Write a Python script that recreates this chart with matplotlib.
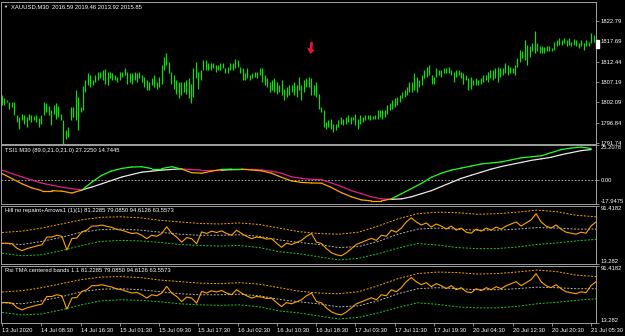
import numpy as np
import matplotlib
matplotlib.use('Agg')
import matplotlib.pyplot as plt
from matplotlib.patches import Rectangle
from matplotlib.transforms import blended_transform_factory

plt.rcParams['font.family'] = ['Liberation Sans', 'DejaVu Sans']

# ---------------- text ----------------
symbol_title = "XAUUSD,M30  2016.59 2019.46 2013.92 2015.85"
tsi_title = "TSI1 M30 (89.0,21.0,21.0) 27.2250 14.7445"
hill_title = "Hill no repaint+Arrows1 (1)(1) 81.2285 79.0850 94.6126 63.5573"
rsi_title = "Rsi TMA centered bands 1.1 81.2285 79.0850 94.6126 63.5573"

time_labels = ["13 Jul 2020", "14 Jul 08:30", "14 Jul 16:30", "15 Jul 01:30",
               "15 Jul 09:30", "15 Jul 17:30", "16 Jul 02:30", "16 Jul 10:30",
               "16 Jul 18:30", "17 Jul 03:30", "17 Jul 11:30", "17 Jul 19:30",
               "20 Jul 04:30", "20 Jul 12:30", "20 Jul 20:30", "21 Jul 05:30"]
time_label_bars = [0, 16, 32, 48, 64, 80, 96, 112, 128, 144, 160, 176, 192, 208, 224, 240]

price_ticks = [1822.79, 1817.69, 1812.44, 1807.19, 1802.09, 1796.84, 1791.74]
price_range = [1791.43, 1827.87]
tsi_ticks = [25.2078, 0.00, -17.9475]
band_ticks = [91.4182, 13.282]

# ---------------- price bars (M30) ----------------
high = [1803.9, 1803.1, 1802.6, 1802.2, 1802.2, 1802.2, 1798.8, 1798.3, 1799.2, 1798.8,
        1798.3, 1799.0, 1798.8, 1798.5, 1798.8, 1798.2, 1798.8, 1802.2, 1801.8, 1801.1,
        1800.2, 1801.3, 1801.8, 1801.1, 1799.2, 1797.5, 1794.9, 1795.8, 1800.8, 1800.8,
        1805.2, 1803.5, 1800.9, 1806.2, 1807.8, 1809.5, 1809.1, 1807.8, 1809.1, 1809.9,
        1809.9, 1810.4, 1810.5, 1809.9, 1809.9, 1809.5, 1809.1, 1808.6, 1809.9, 1809.9,
        1810.8, 1809.9, 1809.7, 1809.5, 1809.9, 1809.7, 1809.9, 1809.1, 1808.6, 1807.8,
        1807.4, 1808.2, 1809.1, 1807.4, 1808.6, 1811.6, 1813.8, 1814.6, 1812.5, 1809.9,
        1809.1, 1807.8, 1807.4, 1807.4, 1807.4, 1807.8, 1808.2, 1806.9, 1810.8, 1812.5,
        1809.9, 1810.4, 1812.9, 1812.9, 1812.1, 1812.1, 1812.2, 1811.6, 1811.6, 1812.2,
        1812.1, 1810.8, 1811.2, 1812.1, 1812.1, 1813.1, 1812.9, 1811.2, 1810.8, 1809.5,
        1810.8, 1809.1, 1809.5, 1809.9, 1809.9, 1810.8, 1810.8, 1809.1, 1808.2, 1807.4,
        1807.8, 1808.2, 1807.4, 1806.5, 1807.8, 1805.6, 1806.1, 1806.5, 1806.5, 1807.4,
        1806.5,
        1808.6, 1806.5, 1807.8, 1808.2, 1808.6, 1808.2, 1806.5, 1807.4, 1804.3, 1800.9,
        1800.1, 1797.1, 1797.5, 1797.9, 1796.6, 1796.6, 1797.5, 1798.3, 1797.9, 1798.3,
        1798.8, 1798.3, 1798.3, 1799.2, 1797.9, 1798.8, 1798.3, 1798.8, 1798.8, 1798.8,
        1798.5, 1798.8, 1800.1, 1800.1, 1800.1, 1800.2, 1801.3, 1801.8, 1802.6, 1803.1,
        1803.5, 1803.9, 1804.8, 1805.2, 1806.1, 1807.4, 1807.4, 1809.5, 1808.6, 1807.8,
        1809.1, 1810.4, 1811.2, 1811.6, 1809.1, 1808.6, 1810.8, 1810.4, 1810.4, 1810.9,
        1810.8,
        1811.2, 1810.4, 1809.9, 1810.4, 1810.4, 1809.9, 1809.5, 1809.1, 1808.2, 1808.6,
        1807.8, 1808.2, 1807.8, 1808.2, 1809.1, 1809.1, 1809.9, 1810.4, 1810.4, 1810.8,
        1811.2, 1810.8, 1810.8, 1812.1, 1811.6, 1811.2, 1810.8, 1811.6, 1813.4, 1815.5,
        1815.1, 1818.1, 1816.8, 1816.4, 1817.2, 1820.2, 1817.2, 1816.4, 1816.4, 1816.2,
        1816.4, 1816.4, 1815.9, 1817.6, 1818.1, 1818.5, 1818.1, 1818.5, 1818.1, 1818.5,
        1817.6, 1818.3, 1818.1, 1817.2, 1818.1, 1817.2, 1818.1, 1817.6, 1819.8, 1819.4]

low = [1801.3, 1801.3, 1802.2, 1800.5, 1800.9, 1798.8, 1797.1, 1795.3, 1797.5, 1796.6,
       1795.9, 1797.5, 1797.1, 1797.5, 1797.1, 1795.8, 1796.6, 1798.8, 1799.6, 1798.8,
       1796.2, 1799.2, 1797.9, 1798.3, 1797.5, 1791.5, 1792.8, 1793.2, 1797.5, 1798.3,
       1797.5, 1794.9, 1799.6, 1800.1, 1804.8, 1806.5, 1806.1, 1806.5, 1807.4, 1807.8,
       1808.2, 1807.8, 1806.9, 1806.5, 1808.2, 1807.8, 1807.8, 1807.4, 1807.8, 1808.6,
       1809.1, 1806.9, 1807.4, 1806.9, 1807.8, 1807.4, 1808.2, 1807.4, 1806.1, 1805.2,
       1805.2, 1806.5, 1806.1, 1805.6, 1806.1, 1806.9, 1810.4, 1811.6, 1809.5, 1806.9,
       1805.6, 1804.3, 1803.1, 1803.9, 1804.8, 1804.3, 1803.1, 1801.9, 1803.5, 1808.2,
       1805.6, 1807.8, 1810.4, 1810.4, 1810.4, 1810.4, 1810.8, 1809.9, 1810.4, 1810.4,
       1810.8, 1809.5, 1809.5, 1810.4, 1810.4, 1810.8, 1811.2, 1809.5, 1807.8, 1807.8,
       1808.2, 1807.8, 1808.2, 1808.6, 1808.2, 1809.1, 1807.4, 1806.5, 1806.1, 1804.8,
       1805.2, 1804.8, 1804.3, 1804.8, 1803.9, 1802.6, 1803.5, 1803.9, 1804.8, 1803.9,
       1803.5,
       1805.2, 1802.6, 1804.8, 1806.1, 1806.1, 1803.9, 1803.9, 1803.5, 1800.5, 1799.6,
       1795.8, 1795.3, 1795.8, 1795.3, 1794.5, 1794.9, 1795.8, 1796.6, 1796.2, 1796.6,
       1797.1, 1796.6, 1797.5, 1796.2, 1795.3, 1796.6, 1797.1, 1797.5, 1797.9, 1797.5,
       1797.7, 1797.7, 1797.9, 1798.3, 1797.9, 1798.3, 1799.2, 1800.1, 1800.5, 1800.8,
       1801.3, 1802.2, 1803.1, 1803.5, 1803.9, 1804.8, 1804.8, 1805.2, 1804.8, 1806.1,
       1806.5, 1808.2, 1808.6, 1809.1, 1806.9, 1806.9, 1808.6, 1809.1, 1808.6, 1809.5,
       1809.5,
       1809.5, 1809.1, 1807.4, 1808.6, 1809.1, 1808.2, 1806.9, 1807.8, 1805.2, 1805.6,
       1806.5, 1806.5, 1806.5, 1806.9, 1807.4, 1807.8, 1807.4, 1808.2, 1807.8, 1808.2,
       1807.4, 1808.6, 1809.1, 1809.5, 1809.1, 1809.5, 1809.5, 1809.1, 1811.2, 1812.5,
       1813.4, 1812.9, 1811.6, 1813.8, 1815.1, 1814.6, 1815.1, 1814.6, 1814.8, 1814.6,
       1815.1, 1815.1, 1815.1, 1815.5, 1816.4, 1816.8, 1816.8, 1817.2, 1816.5, 1816.8,
       1816.4, 1816.8, 1816.4, 1815.9, 1816.4, 1815.5, 1816.4, 1816.4, 1817.2, 1817.6]

last_price = 1817.0
arrow_bar = 126.2
arrow_top = 1817.5
arrow_tip = 1814.5

# ---------------- TSI ----------------
tsi = [4.54, 0.76, -3.03, -6.06, -8.10, -8.10, -8.48, -9.84, -7.72, -1.82,
       3.26, 6.51, 8.33, 9.31, 9.54, 8.18, 8.18, 9.54, 7.80, 5.15,
       4.77, 6.28, 7.57, 7.80, 7.80, 7.19, 6.51, 4.77, 1.74, -0.91,
       -2.04, -2.42, -2.57, -5.83, -9.61, -12.64, -14.91, -15.67, -15.67, -14.16,
       -10.37, -6.59, -2.80, 1.74, 4.77, 7.04, 8.55, 10.07, 11.58, 12.34,
       13.10, 14.61, 16.12, 16.88, 17.64, 19.91, 22.18, 23.32, 24.07, 22.94]
tsi_signal = [7.04, 4.54, 1.97, -0.30, -2.57, -4.09, -5.60, -6.59, -7.57, -5.45,
              -3.03, -0.53, 1.97, 3.79, 5.53, 6.28, 7.04, 7.57, 7.95, 7.42,
              7.04, 7.04, 7.04, 7.42, 7.57, 7.57, 7.19, 6.28, 4.77, 2.12,
              0.98, 0.23, 0.00, -2.42, -5.07, -8.10, -10.37, -12.64, -14.16, -14.53,
              -14.16, -12.64, -10.37, -8.10, -5.07, -2.04, 0.98, 3.26, 5.53, 7.80,
              9.69, 11.20, 12.72, 14.23, 15.37, 16.50, 18.40, 19.91, 21.42, 22.18]

# ---------------- RSI with centered TMA bands ----------------
rsi = [41.11, 41.11, 40.29, 34.26, 31.10, 33.84, 35.63, 37.55, 38.92, 49.33,
       49.33, 51.66, 50.29, 32.06, 47.14, 47.96, 56.19, 58.52, 64.00, 64.00,
       65.37, 63.59, 62.22, 59.48, 58.52, 56.19, 53.99, 54.82, 51.66, 47.14,
       51.66, 50.29, 53.99, 63.04, 53.99, 49.33, 42.48, 48.51, 47.14, 40.29,
       56.19, 53.99, 57.15, 55.36, 57.56, 53.99, 51.66, 58.52, 53.99, 50.29,
       47.14, 49.33, 48.51, 46.59, 47.14, 41.11, 35.63, 41.11, 39.33, 42.07,
       44.81, 50.29, 53.99, 42.48, 40.70, 33.84, 28.36, 25.62, 24.25, 28.36,
       33.84, 39.33, 42.07, 44.81, 47.55, 44.81, 51.66, 50.29, 58.52, 55.77,
       61.26, 69.48, 74.97, 69.48, 65.37, 68.11, 62.63, 66.74, 64.00, 59.89,
       64.00, 58.52, 61.26, 55.77, 54.41, 59.89, 57.15, 61.26, 58.52, 62.63,
       59.89, 64.00, 66.74, 69.48, 64.00, 68.11, 72.23, 80.45, 69.48, 64.00,
       61.26, 65.37, 59.89, 55.77, 54.41, 53.04, 55.77, 54.41, 64.00, 69.48]
band_upper = [55.37, 57.15, 61.26, 66.74, 72.23, 75.65, 76.34, 74.97, 71.54, 69.48,
              67.43, 66.74, 68.11, 66.06, 61.26, 56.46, 53.99, 53.04, 55.77, 64.00,
              73.60, 80.45, 82.51, 81.82, 79.77, 80.45, 82.51, 85.25, 83.19, 78.39, 76.34]
band_mid = [40.70, 39.33, 43.44, 48.92, 55.77, 59.20, 59.89, 58.52, 55.77, 53.04,
            51.66, 51.66, 52.35, 50.29, 45.49, 42.07, 39.33, 35.21, 36.58, 43.44,
            53.04, 59.89, 61.26, 59.89, 58.52, 58.52, 59.89, 61.94, 61.26, 59.89, 59.89]
band_lower = [27.67, 24.25, 25.62, 31.10, 37.95, 43.44, 44.81, 44.12, 42.07, 39.33,
              37.95, 37.27, 37.95, 35.21, 29.73, 26.99, 22.88, 18.76, 20.82, 26.99,
              34.53, 40.70, 38.64, 35.21, 33.84, 33.84, 35.90, 39.33, 41.38, 44.12, 46.18]

# ---------------- styling ----------------
BG = 'black'
FRAME = '#a0a0a0'
TXT = 'white'
FS = 4.2
W, H = 625, 336

fig = plt.figure(figsize=(W / 100, H / 100), dpi=100, facecolor=BG)


def add_panel(top, bottom):
    ax = fig.add_axes([1 / W, 1 - bottom / H, 595 / W, (bottom - top) / H], facecolor=BG)
    for s in ax.spines.values():
        s.set_color(FRAME)
        s.set_linewidth(0.7)
    ax.set_xlim(-0.4, 242.0)
    ax.yaxis.tick_right()
    ax.tick_params(axis='y', colors=FRAME, labelcolor=TXT, labelsize=FS,
                   length=2, width=0.6, pad=1.5, direction='out')
    ax.set_xticks([])
    return ax


def title(ax, text, dx=4.0):
    ax.annotate(text, xy=(0, 1), xycoords='axes fraction', xytext=(dx * 0.72, -5.2 * 0.72),
                textcoords='offset points', color=TXT, fontsize=FS, va='center', ha='left')


# main price panel
ax0 = add_panel(1.5, 144.0)
bars = np.arange(len(high))
ax0.vlines(bars, low, high, color='#00e800', lw=0.85)
ax0.set_ylim(*price_range)
ax0.set_yticks(price_ticks)
ax0.set_yticklabels([f"{v:.2f}" for v in price_ticks])
ax0.arrow(arrow_bar, arrow_top, -0.6, arrow_tip - arrow_top, width=1.1, head_width=3.4,
          head_length=1.3, length_includes_head=True, color='#e8123c', lw=0)
ax0.add_patch(Rectangle((1.0, last_price - 0.9), 3 / 595, 1.8,
                        transform=blended_transform_factory(ax0.transAxes, ax0.transData),
                        clip_on=False, color='white', zorder=5))
ax0.annotate('\u25bc', xy=(0, 1), xycoords='axes fraction', xytext=(2.3 * 0.72, -5.0 * 0.72),
             textcoords='offset points', color=TXT, fontsize=3.0, va='center', ha='left')
title(ax0, symbol_title, dx=10.0)

# TSI panel
ax1 = add_panel(145.5, 204.0)
tx = np.linspace(0, 240, len(tsi))
ax1.axhline(0, color='#c8c8c8', lw=0.6, ls=(0, (2, 2)))
for i in range(len(tx) - 1):
    up = tsi[i] + tsi[i + 1] >= tsi_signal[i] + tsi_signal[i + 1]
    ax1.plot(tx[i:i + 2], tsi_signal[i:i + 2], color='#e8e8e8' if up else '#e0208a',
             lw=0.9, solid_capstyle='round')
for i in range(len(tx) - 1):
    up = tsi[i] + tsi[i + 1] >= tsi_signal[i] + tsi_signal[i + 1]
    ax1.plot(tx[i:i + 2], tsi[i:i + 2], color='#22ff22' if up else '#ffa500',
             lw=0.9, solid_capstyle='round')
ax1.set_ylim(tsi_ticks[2], tsi_ticks[0])
ax1.set_yticks(tsi_ticks)
ax1.set_yticklabels(["25.2078", "0.00", "-17.9475"])
lbls = ax1.get_yticklabels()
lbls[0].set_va('top')
lbls[2].set_va('bottom')
title(ax1, tsi_title)

# band panels
rx = np.linspace(0, 242, len(rsi))
bx = np.linspace(0, 242, len(band_upper))
for (top, bottom, ttl) in [(205.5, 264.0, hill_title), (265.5, 323.0, rsi_title)]:
    ax = add_panel(top, bottom)
    ax.plot(bx, band_upper, color='#ffa500', lw=0.7, ls=(0, (2, 1.6)))
    ax.plot(bx, band_mid, color='#b4b4b4', lw=0.7, ls=(0, (2, 1.6)))
    ax.plot(bx, band_lower, color='#22cc22', lw=0.7, ls=(0, (2, 1.6)))
    ax.plot(rx, rsi, color='#ffa500', lw=0.8)
    ax.set_ylim(band_ticks[1], band_ticks[0])
    ax.set_yticks(band_ticks)
    ax.set_yticklabels(["91.4182", "13.282"])
    lb = ax.get_yticklabels()
    lb[0].set_va('top')
    lb[1].set_va('bottom')
    title(ax, ttl)
    last_ax = ax

last_ax.set_xticks(time_label_bars)
last_ax.set_xticklabels(time_labels)
last_ax.tick_params(axis='x', colors=FRAME, labelcolor=TXT, labelsize=FS,
                    length=2.5, width=0.6, pad=1.2, direction='out')
for lbl in last_ax.get_xticklabels():
    lbl.set_ha('left')

fig.savefig('out.png', dpi=100, facecolor=BG)
